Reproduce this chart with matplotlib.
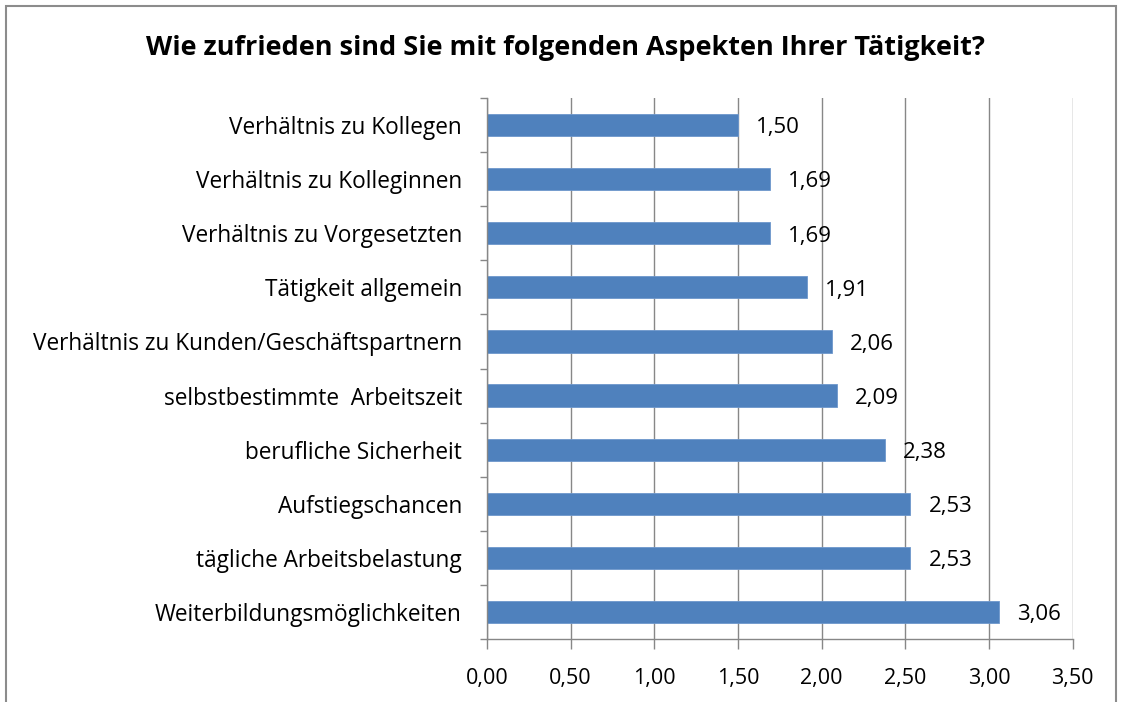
import matplotlib.pyplot as plt
from matplotlib.patches import Rectangle

plt.rcParams['font.family'] = ['Open Sans', 'DejaVu Sans']

# Daten (von oben nach unten)
aspekte = ['Verhältnis zu Kollegen', 'Verhältnis zu Kolleginnen', 'Verhältnis zu Vorgesetzten',
           'Tätigkeit allgemein', 'Verhältnis zu Kunden/Geschäftspartnern',
           'selbstbestimmte  Arbeitszeit', 'berufliche Sicherheit', 'Aufstiegschancen',
           'tägliche Arbeitsbelastung', 'Weiterbildungsmöglichkeiten']
werte = [1.50, 1.69, 1.69, 1.91, 2.06, 2.09, 2.38, 2.53, 2.53, 3.06]
xticks = [0, 0.5, 1.0, 1.5, 2.0, 2.5, 3.0, 3.5]

grau = '#878787'
blau = '#4F81BD'

fig = plt.figure(figsize=(11.21, 7.02), dpi=100)
ax = fig.add_axes([0.4344, 0.0897, 0.5225, 0.7707])

pos = list(range(len(aspekte)))
ax.barh(pos, werte, height=0.41, color=blau, edgecolor='#6d97cc', linewidth=0.6, zorder=3)
for p, v in zip(pos, werte):
    ax.annotate(f'{v:.2f}'.replace('.', ','), (v, p), xytext=(13, -2), textcoords='offset points',
                ha='left', va='center', fontsize=16)

ax.set_ylim(len(aspekte) - 0.5, -0.5)
ax.set_xlim(0, 3.5)
ax.set_yticks(pos)
ax.set_yticklabels(aspekte, fontsize=16.3)
ax.set_yticks([i - 0.5 for i in range(len(aspekte) + 1)], minor=True)
ax.tick_params(axis='y', which='major', length=0, pad=18)
ax.tick_params(axis='y', which='minor', length=5, width=1, color=grau, direction='out')
ax.set_xticks(xticks)
ax.set_xticklabels([f'{t:.2f}'.replace('.', ',') for t in xticks], fontsize=15.5)
ax.tick_params(axis='x', length=7, width=1, color=grau, pad=14)

ax.grid(axis='x', color=grau, linewidth=1, zorder=0)
for s in ['top', 'right']:
    ax.spines[s].set_visible(False)
for s in ['left', 'bottom']:
    ax.spines[s].set_color(grau)
    ax.spines[s].set_linewidth(1)
    ax.spines[s].set_zorder(4)

fig.text(0.5045, 0.922, 'Wie zufrieden sind Sie mit folgenden Aspekten Ihrer Tätigkeit?',
         ha='center', va='baseline', fontsize=19.5, fontweight='bold')

# Rahmen des Diagramms
fig.add_artist(Rectangle((6 / 1121, -0.05), 1110 / 1121, 1.05 - 6 / 702, transform=fig.transFigure,
                         fill=False, edgecolor='#8c8c8c', linewidth=1.5))

fig.savefig('out.png', dpi=100)
